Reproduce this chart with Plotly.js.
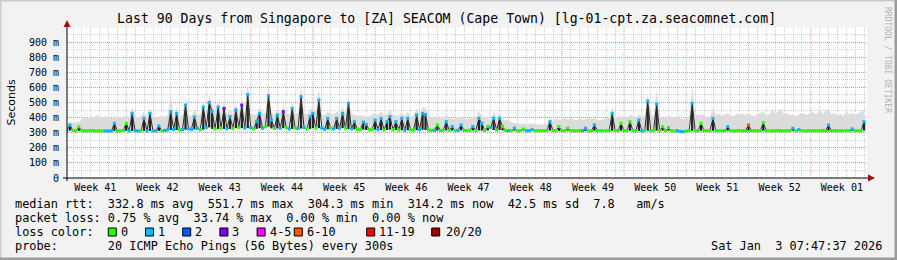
<!DOCTYPE html>
<html><head><meta charset="utf-8">
<script src="https://cdn.plot.ly/plotly-3.0.1.min.js"></script>
<style>html,body{margin:0;padding:0;background:#f2f2f2;}#chart{width:897px;height:260px;}</style>
</head><body><div id="chart"></div>
<script>
// ---------- data ----------
const startTime = '2025-10-05 07:47:37';
const endTime = '2026-01-03 07:47:37';
const stepMs = 8 * 3600 * 1000;

// median RTT (ms), one value every 8 hours
const median = [
316,350,314, 313,338,314, 313,312,314, 313,312,313, 312,311,312, 311,362,313, 313,314,362,
312,428,314, 311,312,395, 312,428,313, 312,345,313, 315,318,440, 322,428,318, 320,483,325,
322,404,330, 320,470,335, 500,440,325, 470,330,461, 325,406,330, 450,335,483, 330,552,335,
325,373,428, 330,340,545, 384,328,417, 330,439,335, 325,461,330, 328,539,335, 325,406,428,
330,517,335, 322,395,330, 325,395,330, 428,330,495, 325,373,322, 320,370,355, 318,322,384,
320,395,318, 373,406,320, 373,318,395, 316,395,318, 316,417,320, 428,420,318, 315,316,351,
314,316,373, 315,340,314, 316,351,315, 314,316,340, 315,395,362, 314,340,335, 395,318,395,
340,315,314, 314,330,313, 314,325,313, 313,320,314, 313,314,313, 314,373,315, 313,340,314,
313,330,314, 313,312,314, 313,330,312, 313,351,314, 312,313,314, 313,428,315, 313,362,314,
313,373,314, 313,384,312, 313,510,314, 315,490,314, 340,313,335, 313,312,313, 308,306,312,
313,495,314, 313,362,314, 313,314,395, 313,314,313, 313,340,314, 312,313,314, 313,314,351,
313,314,313, 313,366,314, 313,312,313, 314,313,312, 313,314,330, 313,320,313, 312,313,314,
313,312,313, 314,313,351, 313,314,313, 312,313,314, 313,325,313, 313,314,373
];

// loss class index per step (0:"0",1:"1",2:"2",3:"3",4:"4-5",5:"6-10",6:"11-19",7:"20/20")
const lossClass = [
1,1,0, 0,0,0, 0,0,0, 0,0,0, 0,1,1, 1,1,0, 0,0,0,
1,1,1, 1,0,1, 1,1,1, 1,1,0, 1,1,1, 1,1,0, 1,1,1,
1,1,1, 0,1,1, 1,1,0, 1,0,3, 1,1,0, 1,0,3, 1,1,1,
0,1,1, 1,0,1, 1,0,1, 1,3,0, 1,1,0, 1,1,1, 0,1,1,
0,1,1, 1,1,0, 1,1,1, 1,0,1, 1,1,0, 0,1,1, 0,0,1,
1,1,0, 1,1,0, 1,0,1, 1,1,0, 0,1,1, 1,1,0, 0,1,0,
0,0,1, 0,1,0, 1,1,0, 0,0,1, 0,1,1, 0,0,1, 1,0,1,
0,0,1, 0,1,0, 0,0,1, 1,1,0, 0,0,0, 0,1,0, 0,0,0,
0,0,0, 0,0,0, 1,1,0, 0,1,0, 0,0,0, 0,1,0, 0,0,0,
0,0,0, 0,1,1, 0,1,0, 0,1,0, 0,0,0, 0,0,1, 1,1,0,
0,1,0, 0,0,0, 0,0,1, 0,0,0, 0,1,0, 0,0,0, 0,0,5,
0,0,0, 0,0,0, 0,0,0, 0,0,0, 0,0,1, 0,1,0, 0,0,0,
0,0,0, 0,0,1, 0,0,0, 0,0,0, 0,1,0, 0,0,1
];

// upper edge of the ping "smoke" (ms)
const smokeHi = [
360,372,365, 368,375,390, 405,395,410, 400,415,405, 398,410,402, 395,412,400, 405,398,415,
402,470,410, 400,412,440, 405,460,408, 400,398,410, 405,415,550, 410,470,405, 415,530,420,
410,450,418, 420,510,430, 545,480,425, 510,420,500, 425,450,420, 490,430,520, 425,640,430,
420,420,470, 425,430,630, 430,420,460, 425,480,430, 420,500,425, 430,610,430, 420,450,470,
430,590,425, 415,440,425, 420,440,430, 470,425,540, 420,420,410, 415,410,405, 410,420,430,
420,440,415, 420,455,410, 420,405,440, 410,440,400, 415,460,420, 470,465,410, 405,400,400,
395,400,420, 400,390,395, 405,400,395, 390,395,400, 400,440,410, 395,390,385, 440,400,435,
390,380,385, 370,365,360, 358,362,355, 360,362,355, 358,352,355, 360,400,375, 395,390,380,
400,385,395, 390,380,395, 385,390,400, 390,395,385, 380,390,395, 400,470,405, 395,410,400,
395,420,410, 400,420,405, 410,560,420, 410,580,415, 400,395,410, 405,400,395, 395,390,400,
410,610,420, 420,415,425, 395,410,460, 415,425,410, 420,430,415, 410,425,420, 425,415,430,
415,410,420, 425,440,415, 420,450,430, 440,460,420, 430,415,420, 410,420,430, 425,415,440,
430,420,455, 425,445,460, 420,430,415, 425,410,440, 420,430,415, 425,440,450
];

const weekLabels = ['Week 41','Week 42','Week 43','Week 44','Week 45','Week 46','Week 47',
                    'Week 48','Week 49','Week 50','Week 51','Week 52','Week 01'];
const weekMid = ['2025-10-08 12:00','2025-10-15 12:00','2025-10-22 12:00','2025-10-29 12:00',
                 '2025-11-05 12:00','2025-11-12 12:00','2025-11-19 12:00','2025-11-26 12:00',
                 '2025-12-03 12:00','2025-12-10 12:00','2025-12-17 12:00','2025-12-24 12:00',
                 '2025-12-31 12:00'];
const weekStart = ['2025-10-12','2025-10-19','2025-10-26','2025-11-02','2025-11-09','2025-11-16',
                   '2025-11-23','2025-11-30','2025-12-07','2025-12-14','2025-12-21','2025-12-28'];

const yTickVals = [0,100,200,300,400,500,600,700,800,900];
const yTickText = ['0','100 m','200 m','300 m','400 m','500 m','600 m','700 m','800 m','900 m'];

const lossLabels = ['0','1','2','3','4-5','6-10','11-19','20/20'];
const lossColors = ['#26ff00','#00b8ff','#0059ff','#7e00ff','#ff00ff','#ff5500','#ff0000','#a10000'];

const rttLine = 'median rtt:  332.8 ms avg  551.7 ms max  304.3 ms min  314.2 ms now  42.5 ms sd  7.8   am/s';
const lossLine = 'packet loss: 0.75 % avg  33.74 % max  0.00 % min  0.00 % now';
const colorLine = 'loss color:';
const probeLine = 'probe:       20 ICMP Echo Pings (56 Bytes) every 300s';
const stampText = 'Sat Jan  3 07:47:37 2026';
const titleText = 'Last 90 Days from Singapore to [ZA] SEACOM (Cape Town) [lg-01-cpt.za.seacomnet.com]';

// ---------- layout helpers ----------
const W = 897, H = 260, ML = 67, MR = 30, MT = 27, MB = 82;
const PW = W - ML - MR, PH = H - MT - MB;
const px = x => (x - ML) / PW;
const py = y => (H - MB - y) / PH;
const MONO = "'DejaVu Sans Mono', monospace";
const NB = s => s.replace(/ /g, '\u00a0');
const msPerPx = 90 * 86400000 / PW;

// dark spike columns: from the lower neighbour up to the median
const spikeBase = median.map((v, i) => Math.min(v, median[Math.max(i - 1, 0)], median[Math.min(i + 1, median.length - 1)]));
const spikeLen = median.map((v, i) => v - spikeBase[i]);

const traces = [
  {type:'scatter', x0:startTime, dx:stepMs, y:median, mode:'lines',
   line:{width:0, color:'rgba(0,0,0,0)'}, hoverinfo:'skip', showlegend:false},
  {type:'scatter', x0:startTime, dx:stepMs, y:smokeHi, mode:'lines', fill:'tonexty',
   fillcolor:'#dcdcdc', line:{width:0, color:'rgba(0,0,0,0)'}, hoverinfo:'skip', showlegend:false},
  {type:'bar', x0:startTime, dx:stepMs, y:spikeLen, base:spikeBase, width:2.3 * msPerPx,
   marker:{color:'#232323', line:{width:0}}, hoverinfo:'skip', showlegend:false},
  {type:'scatter', x0:startTime, dx:stepMs, y:median, mode:'lines',
   line:{width:1, color:'#2a2a2a'}, hoverinfo:'skip', showlegend:false},
  {type:'scatter', x0:startTime, dx:stepMs, y:median, mode:'markers',
   marker:{symbol:'square', size:3.1, color:lossClass.map(c => lossColors[c]), line:{width:0}},
   hoverinfo:'skip', showlegend:false}
];

const shapes = [];
weekStart.forEach(d => shapes.push({type:'line', xref:'x', yref:'paper', x0:d, x1:d, y0:0, y1:1,
  line:{color:'#f08c8c', width:1, dash:'1px,1px'}, layer:'below'}));
shapes.push({type:'line', xref:'paper', yref:'paper', x0:px(67), x1:px(67), y0:py(181), y1:py(25),
  line:{color:'#000', width:1}});
shapes.push({type:'line', xref:'paper', yref:'paper', x0:px(63), x1:px(870), y0:py(178), y1:py(178),
  line:{color:'#000', width:1}});
shapes.push({type:'path', xref:'paper', yref:'paper',
  path:`M ${px(67)} ${py(20)} L ${px(63.5)} ${py(27)} L ${px(70.5)} ${py(27)} Z`,
  fillcolor:'#9a1010', line:{width:0}});
shapes.push({type:'path', xref:'paper', yref:'paper',
  path:`M ${px(875)} ${py(178)} L ${px(868)} ${py(174.5)} L ${px(868)} ${py(181.5)} Z`,
  fillcolor:'#9a1010', line:{width:0}});
shapes.push({type:'rect', xref:'paper', yref:'paper', x0:px(0), x1:px(W), y0:py(0), y1:py(1.5),
  fillcolor:'#cbcbcb', line:{width:0}});
shapes.push({type:'rect', xref:'paper', yref:'paper', x0:px(0), x1:px(1.5), y0:py(0), y1:py(H),
  fillcolor:'#cbcbcb', line:{width:0}});
shapes.push({type:'rect', xref:'paper', yref:'paper', x0:px(0), x1:px(W), y0:py(H-2.5), y1:py(H),
  fillcolor:'#9c9c9c', line:{width:0}});
shapes.push({type:'rect', xref:'paper', yref:'paper', x0:px(W-2.5), x1:px(W), y0:py(0), y1:py(H),
  fillcolor:'#9c9c9c', line:{width:0}});

const annotations = [];
const txt = (x, y, text, opts = {}) => annotations.push(Object.assign({
  xref:'paper', yref:'paper', x:px(x), y:py(y), text:NB(text), showarrow:false,
  xanchor:'left', yanchor:'middle', borderpad:0, borderwidth:0,
  font:{family:MONO, size:11.86, color:'#000'}}, opts));

txt(15, 204, rttLine);
txt(15, 218, lossLine);
txt(15, 232, colorLine);
const boxX = [108.3, 145.5, 182.7, 219.9, 257.1, 294.3, 366.7, 431.7];
const labX = [120.8, 158, 195.2, 232.4, 269.6, 306.8, 379.2, 445.5];
lossLabels.forEach((s, i) => {
  shapes.push({type:'rect', xref:'paper', yref:'paper', x0:px(boxX[i]), x1:px(boxX[i]+8),
    y0:py(228), y1:py(236), fillcolor:lossColors[i], line:{color:'#000', width:1}});
  txt(labX[i], 232, s);
});
txt(15, 246, probeLine);
txt(881.5, 246, stampText, {xanchor:'right'});
annotations.push({xref:'paper', yref:'paper', x:px(11), y:py(102.5), text:'Seconds', showarrow:false,
  textangle:-90, xanchor:'center', yanchor:'middle', font:{family:"'DejaVu Sans', sans-serif", size:11, color:'#000'}});
annotations.push({xref:'paper', yref:'paper', x:px(888), y:py(60), text:NB('RRDTOOL / TOBI OETIKER'),
  showarrow:false, textangle:90, xanchor:'center', yanchor:'middle',
  font:{family:MONO, size:8, color:'#b4b4b4'}});

const layout = {
  width:W, height:H, margin:{l:ML, r:MR, t:MT, b:MB, pad:0},
  paper_bgcolor:'#f2f2f2', plot_bgcolor:'#ffffff', showlegend:false, barmode:'overlay',
  title:{text:titleText, font:{family:MONO, size:13.2, color:'#000'},
         x:446.6/W, xref:'container', xanchor:'center', y:1-18/H, yref:'container', yanchor:'middle'},
  xaxis:{type:'date', range:[startTime, endTime], tickmode:'array', tickvals:weekMid, ticktext:weekLabels,
         showgrid:false, zeroline:false, showline:false, ticks:'', ticklabelstandoff:2,
         tickfont:{family:MONO, size:10, color:'#000'}, fixedrange:true,
         minor:{tickmode:'linear', tick0:'2025-10-05', dtick:86400000, showgrid:true,
                gridcolor:'#cfcfcf', griddash:'1px,1px', gridwidth:1, ticks:''}},
  yaxis:{range:[0,1000], tickmode:'array', tickvals:yTickVals, ticktext:yTickText,
         showgrid:true, gridcolor:'#f08c8c', griddash:'1px,1px', gridwidth:1,
         zeroline:false, showline:false, ticks:'', ticklabelstandoff:7,
         tickfont:{family:MONO, size:10, color:'#000'}, fixedrange:true,
         minor:{tickmode:'linear', tick0:0, dtick:50, showgrid:true,
                gridcolor:'#cfcfcf', griddash:'1px,1px', gridwidth:1, ticks:''}},
  shapes:shapes, annotations:annotations
};

Plotly.newPlot('chart', traces, layout, {staticPlot:true, displayModeBar:false});
</script></body></html>
